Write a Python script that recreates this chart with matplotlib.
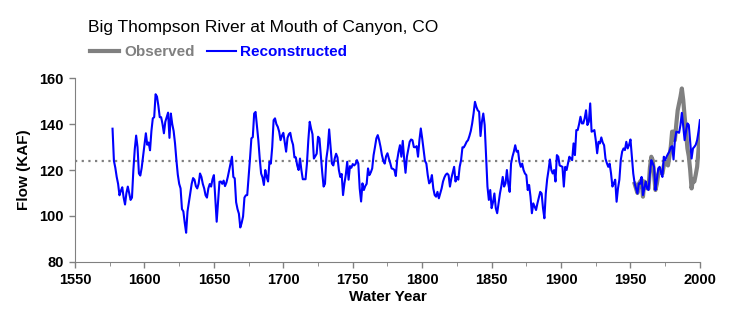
import numpy as np
import matplotlib.pyplot as plt

plt.rcParams['font.family'] = ['Liberation Sans', 'DejaVu Sans']

# reconstructed annual flow (KAF), water years 1577-2000
recon_start = 1577
recon = [
    138, 124, 121,
    117, 114, 109, 111, 112.5, 108, 105, 110, 112.8, 110,
    107, 108, 120, 129, 135, 130, 118.5, 117.6, 121, 126,
    131, 136, 131, 132, 128.6, 137, 142.5, 143, 153, 152,
    148, 143, 143, 140, 136, 141, 143, 145, 134, 144.6,
    140, 137, 131.6, 124.3, 118, 114, 112, 103, 102, 97,
    92.7, 102, 106, 110, 114, 116.5, 115.8, 113, 112, 114,
    118.5, 117, 114, 112, 109, 108, 112, 113.9, 112.8, 116,
    117.8, 108, 97.5, 106, 114.9, 115, 114, 115.4, 113, 114.5,
    117, 120, 123, 125.8, 117, 116.4, 106, 103, 101, 95,
    97, 99.8, 108, 109, 109.1, 117, 125, 133.8, 134.3, 144.6,
    145.3, 139, 133, 125, 118.5, 116.8, 113.5, 120, 117, 115,
    123.6, 122.8, 130, 141.7, 142.5, 140, 138.8, 136.7, 133, 135,
    136.2, 132, 128, 134, 135.6, 136.2, 133, 131, 125.5, 125.5,
    122, 120, 125, 120, 116, 116, 116, 122.8, 133, 141,
    138, 135.6, 125, 126, 127.1, 134.5, 133.8, 126.4, 119, 112.8,
    114, 125, 129.4, 137.7, 130.1, 122.8, 122, 125, 127.1, 125.5,
    120, 117, 118.3, 109.1, 114.2, 118, 123.6, 115.8, 121.7, 121,
    122.6, 122, 122.6, 124.3, 122.8, 112, 106.3, 114.2, 111.3, 113,
    114, 120.7, 117.8, 119, 120.7, 126.5, 130, 133.8, 135.2, 133,
    130.1, 126.5, 124, 122.8, 126, 127.3, 125, 123, 120.7, 120.5,
    120, 117.4, 124.3, 128, 130.8, 125.8, 132.7, 125, 118.8, 125.8,
    129, 132.3, 133.3, 133, 130, 129.9, 130.4, 125.8, 133, 138.1,
    133.8, 128.7, 124, 122.8, 117.8, 114.2, 115, 117.8, 112, 109.1,
    108.4, 110.5, 107.7, 109.8, 112, 115, 116.8, 118, 118.5, 117.8,
    112.8, 116.4, 119, 121.4, 115, 117, 115.8, 121.4, 124.3, 129.9,
    129.9, 131, 132.3, 133, 134.8, 137, 140.3, 144.6, 149.7, 147.5,
    146, 145.4, 134.8, 141, 144.6, 139.6, 125.8, 112.8, 107, 111.3,
    103.4, 106, 109.8, 103.4, 101.2, 105.5, 109.8, 113, 117, 112.8,
    114.2, 120, 114, 110.5, 122.8, 125.8, 128, 130.8, 128, 128.4,
    123.6, 121.4, 122.8, 120, 118.5, 117.8, 111.3, 113.5, 108.4, 101.2,
    105.5, 104, 102.6, 105.5, 108, 110.5, 109.8, 103.4, 99, 109.8,
    116, 120, 124.6, 120, 118.5, 120, 115, 126.5, 125.8, 122,
    121.7, 121.4, 112.8, 121.4, 120, 123, 125.8, 125, 124.3, 131.6,
    126.5, 137.4, 137.4, 140, 143.2, 140.3, 140.3, 142.5, 146, 139.6,
    141, 149, 136.7, 137, 137.4, 133, 127.3, 132.3, 131.6, 134.2,
    132, 130.8, 125, 123, 121.4, 122.8, 118.5, 112.8, 114.2, 115.8,
    106.2, 112, 115.8, 124.3, 128, 129.4, 128.7, 132.3, 129.4, 131,
    133.3, 125.8, 118.5, 114.2, 112, 109.8, 114.2, 114, 117, 109.1,
    112, 115, 112, 111.3, 118.5, 124.3, 123, 121.4, 111.3, 115.8,
    120.7, 121.4, 119, 117, 125.8, 124.3, 125.8, 127, 128, 129.9,
    130.4, 124.6, 133, 136.7, 136.5, 136.2, 139.6, 144.9, 138.8, 133,
    137, 140.3, 139.6, 132.3, 125, 129.4, 130.1, 131, 133, 136.7,
    141.7,
]

# observed (gaged) flow, 1953-2000
obs_start = 1953
observed = [
    114, 112, 110, 114, 115, 115.8, 108.4,
    115, 114, 112, 112, 121, 125.8, 124.3, 118, 111.3, 114,
    118, 120, 119, 118.5, 122, 123.6, 122.8, 122, 125.8, 130,
    136.7, 136.7, 133, 140, 146, 149, 151.9, 155.5, 150.5, 143.3,
    136.7, 129.4, 126, 120, 112, 115.8, 115, 118, 121.4, 128.7,
    136.7,
]

mean_flow = 124

recon_years = np.arange(recon_start, recon_start + len(recon))
obs_years = np.arange(obs_start, obs_start + len(observed))

fig = plt.figure(figsize=(7.43, 3.27), dpi=100)
ax = fig.add_axes([0.101, 0.199, 0.841, 0.562])

ax.axhline(mean_flow, color='#808080', ls=(0, (1, 2)), lw=1.6, zorder=1)
l_obs, = ax.plot(obs_years, observed, color='#808080', lw=3, zorder=2)
l_rec, = ax.plot(recon_years, recon, color='#0000ff', lw=1.5, zorder=3)

ax.set_xlim(1550, 2000)
ax.set_ylim(80, 160)
ax.set_xticks(np.arange(1550, 2001, 50))
ax.set_xticks(np.arange(1575, 2000, 50), minor=True)
ax.set_yticks(np.arange(80, 161, 20))
ax.tick_params(axis='both', direction='out', length=4, width=1, labelsize=10.5, pad=4)
ax.tick_params(axis='x', which='minor', length=3)
for lab in ax.get_xticklabels() + ax.get_yticklabels():
    lab.set_fontweight('bold')

for s in ['top', 'right']:
    ax.spines[s].set_visible(False)
for s in ['left', 'bottom']:
    ax.spines[s].set_color('#808080')
ax.tick_params(axis='both', which='both', color='#808080', labelcolor='black')

ax.set_xlabel('Water Year', fontsize=11, fontweight='bold', labelpad=2)
ax.set_ylabel('Flow (KAF)', fontsize=11, fontweight='bold', labelpad=6)

fig.text(0.118, 0.915, 'Big Thompson River at Mouth of Canyon, CO', fontsize=12.5,
         va='center', ha='left')

leg = fig.legend([l_obs, l_rec], ['Observed', 'Reconstructed'], ncol=2,
                 loc='center left', bbox_to_anchor=(0.103, 0.84), frameon=False,
                 handlelength=1.9, columnspacing=0.8, handletextpad=0.3,
                 prop={'weight': 'bold', 'size': 11})
for txt, col in zip(leg.get_texts(), ['#808080', '#0000ff']):
    txt.set_color(col)

fig.savefig('out.png', dpi=100)
